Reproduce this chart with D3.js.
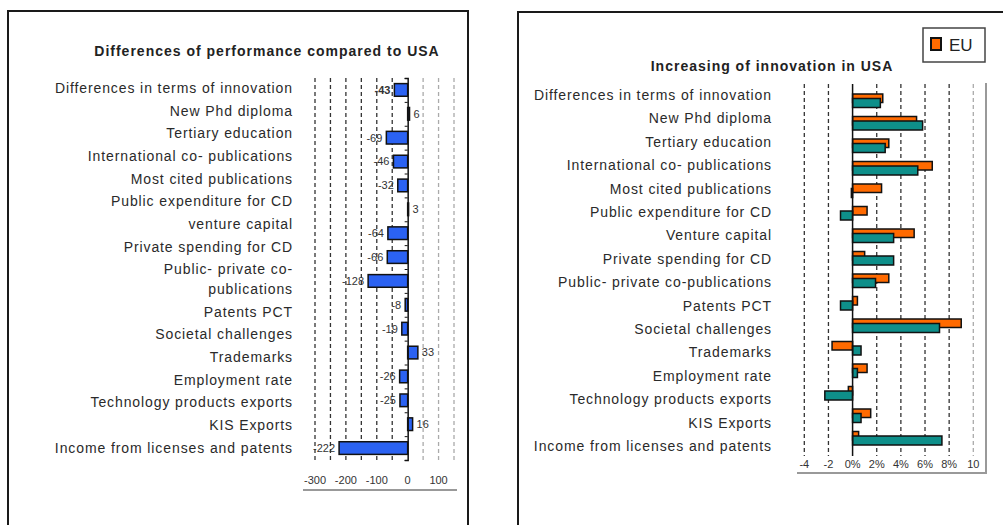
<!DOCTYPE html>
<html>
<head>
<meta charset="utf-8">
<script src="https://cdn.jsdelivr.net/npm/d3@7"></script>
<style>
  body { margin: 0; background: #fff; }
  svg { display: block; font-family: "Liberation Sans", Arial, sans-serif; }
  .cat { font-size: 14px; letter-spacing: 0.9px; fill: #2a2a2a; }
  .title { font-size: 14px; font-weight: bold; letter-spacing: 1px; fill: #222; }
  .tick { font-size: 11px; fill: #333; }
  .val { font-size: 11px; fill: #333; }
</style>
</head>
<body>
<div id="chart"></div>
<script>
// left panel: differences vs USA
const leftTitle = "Differences of performance compared to USA";
const leftCategories = [
  "Differences in terms of innovation", "New Phd diploma", "Tertiary education",
  "International co- publications", "Most cited publications", "Public expenditure for CD",
  "venture capital", "Private spending for CD", "Public- private co-\npublications",
  "Patents PCT", "Societal challenges", "Trademarks", "Employment rate",
  "Technology products exports", "KIS Exports", "Income from licenses and patents"
];
const leftValues = [-43, 6, -69, -46, -32, 3, -64, -66, -128, -8, -19, 33, -26, -25, 16, -222];
const leftTicks = [-300, -200, -100, 0, 100];

// right panel: growth of innovation, EU vs USA
const rightTitle = "Increasing of innovation in USA";
const rightCategories = [
  "Differences in terms of innovation", "New Phd diploma", "Tertiary education",
  "International co- publications", "Most cited publications", "Public expenditure for CD",
  "Venture capital", "Private spending for CD", "Public- private co-publications",
  "Patents PCT", "Societal challenges", "Trademarks", "Employment rate",
  "Technology products exports", "KIS Exports", "Income from licenses and patents"
];
const euValues  = [2.5, 5.3, 3.0, 6.6, 2.4, 1.2, 5.1, 1.0, 3.0, 0.4, 9.0, -1.7, 1.2, -0.35, 1.5, 0.5];
const usaValues = [2.3, 5.8, 2.7, 5.4, -0.1, -1.0, 3.4, 3.4, 1.9, -1.0, 7.2, 0.7, 0.4, -2.3, 0.7, 7.4];
const rightTicks = [-4, -2, 0, 2, 4, 6, 8, 10];
const rightTickLabels = ["-4", "-2", "0%", "2%", "4%", "6%", "8%", "10"];
const legendName = "EU";

const svg = d3.select("#chart").append("svg")
    .attr("width", 1003)
    .attr("height", 525);

// panel frames
svg.append("path").attr("d", "M8,600V11H468V600")
    .attr("fill", "none").attr("stroke", "#1a1a1a").attr("stroke-width", 2);
svg.append("path").attr("d", "M518,600V12H1010")
    .attr("fill", "none").attr("stroke", "#1a1a1a").attr("stroke-width", 2);

/* ---------- left chart ---------- */
var top1 = 78, bottom1 = 460;
var x1 = d3.scaleLinear().domain([-300, 150]).range([315, 454]);
var y1 = d3.scaleBand().domain(leftCategories).range([top1, bottom1])
    .paddingInner(0.47).paddingOuter(0.235);

var left = svg.append("g");

left.append("text").attr("class", "title")
    .attr("x", 267).attr("y", 56).attr("text-anchor", "middle")
    .text(leftTitle);

left.append("g").selectAll("line")
    .data(d3.range(-300, 151, 50).filter(d => d !== 0))
    .enter().append("line")
    .attr("x1", d => x1(d)).attr("x2", d => x1(d))
    .attr("y1", top1).attr("y2", bottom1)
    .attr("stroke", d => d > 0 ? "#aaa" : "#333")
    .attr("stroke-width", 1.3)
    .attr("stroke-dasharray", "4,3");

left.append("g").selectAll("rect")
    .data(leftValues)
    .enter().append("rect")
    .attr("x", d => x1(Math.min(0, d)))
    .attr("y", (d, i) => y1(leftCategories[i]))
    .attr("width", d => Math.abs(x1(d) - x1(0)))
    .attr("height", y1.bandwidth())
    .attr("fill", "#2b62f2")
    .attr("stroke", "#111")
    .attr("stroke-width", 1.5);

// zero axis with small ticks
var zeroAxis = d3.axisLeft(d3.scaleLinear().domain([0, 16]).range([top1, bottom1]))
    .ticks(16).tickSize(3).tickFormat("");
left.append("g")
    .attr("transform", "translate(" + x1(0) + ",0)")
    .call(zeroAxis)
    .call(g => g.select(".domain").attr("stroke", "#111").attr("stroke-width", 1.5))
    .call(g => g.selectAll(".tick line").attr("stroke", "#111"));

left.append("g").selectAll("text")
    .data(leftValues)
    .enter().append("text")
    .attr("class", "val")
    .attr("x", d => d < 0 ? x1(d) - 4 : x1(d) + 4)
    .attr("y", (d, i) => y1(leftCategories[i]) + y1.bandwidth() / 2)
    .attr("dy", "0.35em")
    .attr("text-anchor", d => d < 0 ? "end" : "start")
    .style("font-weight", (d, i) => i === 0 ? "bold" : null)
    .text(d => d);

// category labels stacked like the spreadsheet: wrapped label takes a taller slot
var weights = leftCategories.map(c => c.includes("\n") ? 1.88 : 1);
var unit = (bottom1 - top1) / d3.sum(weights);
var acc = 0;
var labelY = weights.map(w => { var c = top1 + (acc + w / 2) * unit; acc += w; return c; });

var lab = left.append("g").selectAll("text")
    .data(leftCategories)
    .enter().append("text")
    .attr("class", "cat")
    .attr("text-anchor", "end")
    .attr("x", 293)
    .attr("y", (d, i) => labelY[i] - 1);
lab.each(function(d) {
  var lines = d.split("\n");
  var t = d3.select(this);
  lines.forEach((ln, k) => {
    t.append("tspan").attr("x", 293)
      .attr("dy", k === 0 ? (0.35 - (lines.length - 1) * 0.7) + "em" : "1.4em")
      .text(ln);
  });
});

left.append("g").selectAll("text")
    .data(leftTicks)
    .enter().append("text")
    .attr("class", "tick")
    .attr("x", d => x1(d))
    .attr("y", 484)
    .attr("text-anchor", "middle")
    .text(d => d);

left.append("line")
    .attr("x1", 303).attr("x2", 457).attr("y1", 490).attr("y2", 490)
    .attr("stroke", "#999").attr("stroke-width", 2);

/* ---------- right chart ---------- */
var top2 = 84, bottom2 = 456;
var x2 = d3.scaleLinear().domain([-4, 10]).range([804.3, 973.3]);
var y2 = d3.scaleBand().domain(rightCategories).range([87, 447]);
var yLab2 = d3.scalePoint().domain(rightCategories).range([95, 446]);

var right = svg.append("g");

right.append("text").attr("class", "title")
    .attr("x", 772).attr("y", 71).attr("text-anchor", "middle")
    .text(rightTitle);

right.append("g").selectAll("line")
    .data(rightTicks.filter(d => d !== 0))
    .enter().append("line")
    .attr("x1", d => x2(d)).attr("x2", d => x2(d))
    .attr("y1", top2).attr("y2", bottom2)
    .attr("stroke", d => d === 10 ? "#aaa" : "#333")
    .attr("stroke-width", 1.3)
    .attr("stroke-dasharray", "4,3");

right.append("g").selectAll("rect")
    .data(euValues)
    .enter().append("rect")
    .attr("x", d => x2(Math.min(0, d)))
    .attr("y", (d, i) => y2(rightCategories[i]) + 7)
    .attr("width", d => Math.abs(x2(d) - x2(0)))
    .attr("height", 8.5)
    .attr("fill", "#ff6a00")
    .attr("stroke", "#111")
    .attr("stroke-width", 1.5);

right.append("g").selectAll("rect")
    .data(usaValues)
    .enter().append("rect")
    .attr("x", d => x2(Math.min(0, d)))
    .attr("y", (d, i) => y2(rightCategories[i]) + 11.5)
    .attr("width", d => Math.abs(x2(d) - x2(0)))
    .attr("height", 9)
    .attr("fill", "#0e8f8a")
    .attr("stroke", "#111")
    .attr("stroke-width", 1.5);

right.append("line")
    .attr("x1", x2(0)).attr("x2", x2(0)).attr("y1", top2).attr("y2", bottom2)
    .attr("stroke", "#111").attr("stroke-width", 1.5);

right.append("g").selectAll("text")
    .data(rightCategories)
    .enter().append("text")
    .attr("class", "cat")
    .attr("text-anchor", "end")
    .attr("x", 772)
    .attr("y", d => yLab2(d))
    .attr("dy", "0.35em")
    .text(d => d);

right.append("g").selectAll("text")
    .data(rightTicks)
    .enter().append("text")
    .attr("class", "tick")
    .attr("x", d => x2(d))
    .attr("y", 468)
    .attr("text-anchor", "middle")
    .text((d, i) => rightTickLabels[i]);

right.append("path")
    .attr("d", "M797,473H986V83")
    .attr("fill", "none").attr("stroke", "#999").attr("stroke-width", 2);

// legend
var legend = right.append("g").attr("transform", "translate(923,28)");
legend.append("rect").attr("width", 62).attr("height", 34)
    .attr("fill", "#fff").attr("stroke", "#444").attr("stroke-width", 1.5);
legend.append("rect").attr("x", 8).attr("y", 10).attr("width", 10).attr("height", 12)
    .attr("fill", "#ff6a00").attr("stroke", "#111").attr("stroke-width", 2);
legend.append("text").attr("x", 26).attr("y", 17).attr("dy", "0.35em")
    .style("font-size", "17px").style("fill", "#222")
    .text(legendName);
</script>
</body>
</html>
